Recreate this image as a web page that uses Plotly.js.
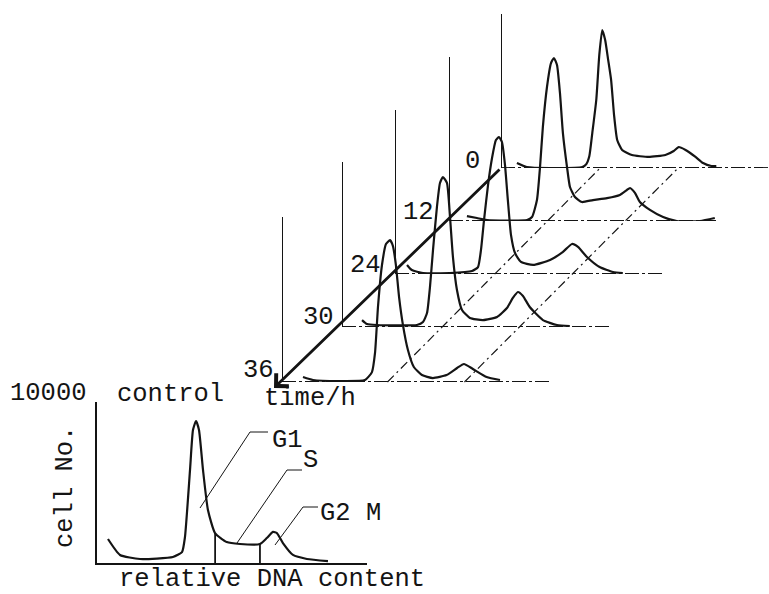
<!DOCTYPE html>
<html><head><meta charset="utf-8">
<script src="https://cdn.plot.ly/plotly-3.0.1.min.js"></script>
<style>html,body{margin:0;padding:0;background:#fff}#chart{width:769px;height:594px}</style>
</head><body><div id="chart"></div>
<script>
// ---- data: DNA channel (0-256) and cell number (0-10000) ----
const controlCh    = [10.4,21.8,40.8,72,80.6,83.4,88.2,91,93.9,96.7,100.5,105.2,111.9,123,135.6,154.5,161,166.8,170.6,176.3,185.8,199,219];
const controlCount = [1490,500,250,370,680,1610,5780,8260,8820,8260,5780,3290,1860,1300,1180,1180,1550,1930,1860,1240,500,250,120];

const h0Ch    = [15.2,24.6,46.5,77.7,81.5,84.4,87.2,91,93.9,96.7,99.5,102.4,105.2,108,111,115.7,125,141,157,165,169.7,176.3,185.8,193,201,205.7];
const h0Count = [300,60,0,60,240,730,2120,4120,6850,8360,7760,6540,5330,3210,1700,1090,790,670,790,1030,1270,1090,670,300,120,120];

const h12Ch    = [17,26.5,36,74,78.7,83.4,86.3,89,92.9,96.7,99.5,102.4,105.2,108,111.9,114.7,119.4,126,136.5,149.8,162,168.7,171.6,176.3,181,190.5,203,216,238,252];
const h12Count = [300,180,60,60,240,1270,3270,5700,8120,9570,9880,9450,7760,5330,3270,2060,1450,1150,1270,1390,1580,1880,2000,1700,1150,670,240,0,0,180];

const h24Ch    = [11.4,16,26.5,52,73,78.7,81.5,84.4,88.2,92,95.7,98.6,101.4,104.3,107,110,113.8,119.4,131,147,159,167.8,173.5,182,194,206.7,216];
const h24Count = [550,240,60,60,180,420,1450,3270,5390,7030,8120,8300,8000,6600,4480,2360,1270,730,550,850,1330,1820,1640,1030,420,120,60];

const h30Ch    = [19,23.7,33,71,76.8,80.6,83.4,86.3,90,92.9,95.7,99.5,102.4,105.2,109,113.8,121.3,133.7,147,156.4,162,166.8,171.6,178,190.5,203.8,216];
const h30Count = [420,180,120,120,300,850,2420,4670,7270,8730,9090,8730,6670,4240,2240,1030,550,420,610,1150,1760,2120,1880,1210,420,120,60];

const h36Ch    = [19.9,29.4,55,78.7,85.3,88.2,91,94.8,98.6,102.4,105.2,108,111,114.7,119.4,125,132.7,143,156,166,172.5,181,194,206.7];
const h36Count = [300,120,60,120,600,1760,4550,7090,8360,8600,8240,7090,5150,3450,1940,910,420,240,420,850,1090,790,300,120];

const timeLabels = ['0','12','24','30','36'];
const gateCh  = [112, 154.5];     // G1/S and S/G2 boundaries in control
const gateTop = [1860, 1180];
const diagCh36 = [100, 173];      // phase boundary guide lines, channel on 36 h panel
const diagCh0  = [94, 168];       // ... and on 0 h panel

// ---- layout geometry (pixels) ----
const W = 769, H = 594, CHMAX = 256, CMAX = 10000;
const PW = 270, PH = 165;
const panels = [
  {x0:501, y0:168, top:9330, ch:h0Ch,  cnt:h0Count,  lab:[472,161]},
  {x0:449, y0:221, top:9940, ch:h12Ch, cnt:h12Count, lab:[418,212]},
  {x0:395, y0:274, top:9940, ch:h24Ch, cnt:h24Count, lab:[365,265]},
  {x0:342, y0:327, top:10000,ch:h30Ch, cnt:h30Count, lab:[318,317]},
  {x0:282, y0:382, top:10000,ch:h36Ch, cnt:h36Count, lab:[258,370]}
];
const ctrl = {x0:97, y0:563, w:270, h:161};
const INK = '#141414';
const FONT = {family:'Liberation Mono, DejaVu Sans Mono, monospace', size:25.5, color:INK};

const traces = [];
const layout = {
  width:W, height:H, margin:{l:0,r:0,t:0,b:0},
  paper_bgcolor:'#fff', plot_bgcolor:'rgba(0,0,0,0)', showlegend:false,
  xaxis:{domain:[0,1], range:[0,W], visible:false, fixedrange:true},
  yaxis:{domain:[0,1], range:[H,0], visible:false, fixedrange:true},
  shapes:[], annotations:[]
};

panels.forEach((p,i) => {
  const k = i+2;
  layout['xaxis'+k] = {domain:[p.x0/W,(p.x0+PW)/W], range:[0,CHMAX], visible:false, anchor:'y'+k, fixedrange:true};
  layout['yaxis'+k] = {domain:[(H-p.y0)/H,(H-p.y0+PH)/H], range:[0,CMAX], visible:false, anchor:'x'+k, fixedrange:true};
  traces.push({x:p.ch, y:p.cnt, xaxis:'x'+k, yaxis:'y'+k, mode:'lines', hoverinfo:'skip',
               line:{color:INK, width:2.2, shape:'spline', smoothing:0.5}});
  // vertical axis
  layout.shapes.push({type:'line', xref:'x'+k, yref:'y'+k, x0:0, x1:0, y0:0, y1:p.top, line:{color:INK, width:2}});
  // dash-dot baseline
  layout.shapes.push({type:'line', xref:'x'+k, yref:'y'+k, x0:0, x1:CHMAX, y0:0, y1:0, line:{color:INK, width:1.8, dash:'14px,3px,3px,3px'}});
  layout.annotations.push({text:timeLabels[i], x:p.lab[0], y:p.lab[1], xref:'x', yref:'y', showarrow:false, font:FONT});
});

// diagonal phase guides (36 h panel -> 0 h panel)
const p36 = panels[4], p0 = panels[0];
const dx = [], dy = [];
diagCh36.forEach((c,j) => {
  dx.push(p36.x0 + c/CHMAX*PW, p0.x0 + diagCh0[j]/CHMAX*PW, null);
  dy.push(p36.y0, p0.y0, null);
});
traces.push({x:dx, y:dy, xaxis:'x', yaxis:'y', mode:'lines', hoverinfo:'skip',
             line:{color:INK, width:1.2, dash:'9px,4px,2px,4px'}});

// control panel
layout.xaxis7 = {domain:[ctrl.x0/W,(ctrl.x0+ctrl.w)/W], range:[0,CHMAX], anchor:'y7', showline:true, linecolor:INK, linewidth:2,
                 showgrid:false, zeroline:false, showticklabels:false, ticks:'', fixedrange:true};
layout.yaxis7 = {domain:[(H-ctrl.y0)/H,(H-ctrl.y0+ctrl.h)/H], range:[0,CMAX], anchor:'x7', showline:true, linecolor:INK, linewidth:2,
                 showgrid:false, zeroline:false, showticklabels:false, ticks:'inside', tickvals:[CMAX], ticklen:7, tickwidth:2, tickcolor:INK, fixedrange:true};
traces.push({x:controlCh, y:controlCount, xaxis:'x7', yaxis:'y7', mode:'lines', hoverinfo:'skip',
             line:{color:INK, width:2.2, shape:'spline', smoothing:0.5}});
const gx = [], gy = [];
gateCh.forEach((c,j) => { gx.push(c, c, null); gy.push(0, gateTop[j], null); });
traces.push({x:gx, y:gy, xaxis:'x7', yaxis:'y7', mode:'lines', hoverinfo:'skip', line:{color:INK, width:1.8}});

// leader lines to phase labels
['M200,508 L250,432 L268,432', 'M237,543 L287,470 L302,470', 'M275,545 L303,507 L318,507'].forEach(d =>
  layout.shapes.push({type:'path', xref:'x', yref:'y', path:d, line:{color:INK, width:1}}));

// time axis arrow
layout.annotations.push({text:'', x:274, y:388, ax:501, ay:168, xref:'x', yref:'y', axref:'x', ayref:'y',
  showarrow:true, arrowhead:4, arrowsize:1.25, arrowwidth:2.8, arrowcolor:INK, standoff:0, startstandoff:0});

const txt = (t,x,y,extra) => layout.annotations.push(Object.assign({text:t, x:x, y:y, xref:'x', yref:'y', showarrow:false, font:FONT}, extra||{}));
txt('time/h', 310, 398);
txt('10000', 48, 393);
txt('control', 170, 394);
txt('cell No.', 65, 487, {textangle:-90});
txt('relative DNA content', 272, 579);
txt('G1', 287, 440);
txt('S', 310, 460);
txt('G2 M', 350, 513);

Plotly.newPlot('chart', traces, layout, {staticPlot:true, displayModeBar:false});
</script></body></html>
